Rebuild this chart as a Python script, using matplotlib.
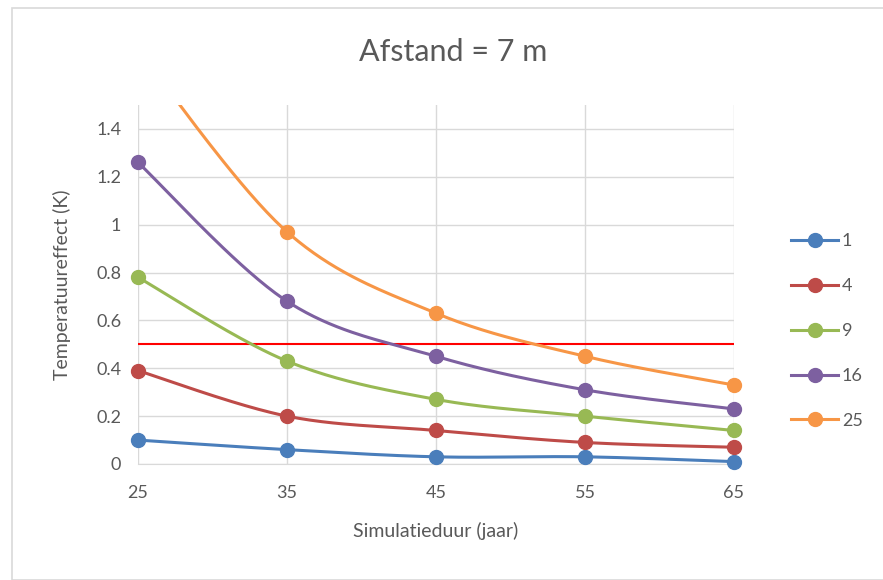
import numpy as np
import matplotlib.pyplot as plt
from matplotlib.lines import Line2D
from matplotlib.patches import Rectangle

plt.rcParams['font.family'] = ['Lato', 'DejaVu Sans']

# data
jaren = [25, 35, 45, 55, 65]
series_names = ["1", "4", "9", "16", "25"]
v1 = [0.10, 0.06, 0.03, 0.03, 0.01]
v4 = [0.39, 0.20, 0.14, 0.09, 0.07]
v9 = [0.78, 0.43, 0.27, 0.20, 0.14]
v16 = [1.26, 0.68, 0.45, 0.31, 0.23]
v25 = [1.73, 0.97, 0.63, 0.45, 0.33]
grens = 0.5

kleuren = ["#4A7EBB", "#BE4B48", "#98B954", "#7D60A0", "#F79646"]
grijs = "#595959"
ytop = 1.5


def smooth(x, y, n=40):
    # Catmull-Rom style smoothing like Excel's "smoothed line"
    x = np.asarray(x, float)
    y = np.asarray(y, float)
    xs, ys = [], []
    for i in range(len(x) - 1):
        p0 = (x[i - 1], y[i - 1]) if i > 0 else (x[i], y[i])
        p1 = (x[i], y[i])
        p2 = (x[i + 1], y[i + 1])
        p3 = (x[i + 2], y[i + 2]) if i + 2 < len(x) else (x[i + 1], y[i + 1])
        c1 = (p1[0] + (p2[0] - p0[0]) / 6, p1[1] + (p2[1] - p0[1]) / 6)
        c2 = (p2[0] - (p3[0] - p1[0]) / 6, p2[1] - (p3[1] - p1[1]) / 6)
        t = np.linspace(0, 1, n)
        bx = (1-t)**3*p1[0] + 3*(1-t)**2*t*c1[0] + 3*(1-t)*t**2*c2[0] + t**3*p2[0]
        by = (1-t)**3*p1[1] + 3*(1-t)**2*t*c1[1] + 3*(1-t)*t**2*c2[1] + t**3*p2[1]
        xs.extend(bx)
        ys.extend(by)
    return np.array(xs), np.array(ys)


fig = plt.figure(figsize=(8.83, 5.8), dpi=100)
fig.patches.append(Rectangle((12/883, 0), 1, 1 - 8/580, transform=fig.transFigure,
                             fill=False, edgecolor="#D9D9D9", linewidth=1.2))
ax = fig.add_axes([138/883, 1 - 464/580, (734-138)/883, (464-105)/580])

for naam, vals, kl in zip(series_names, [v1, v4, v9, v16, v25], kleuren):
    sx, sy = smooth(jaren, vals)
    ax.plot(sx, sy, color=kl, linewidth=2.2, zorder=3)
    # markers outside the visible range stay hidden, the others may overlap the edges
    mv = np.ma.masked_greater(np.array(vals), ytop)
    ax.plot(jaren, mv, "o", color=kl, markersize=10, zorder=4, clip_on=False)

ax.plot([jaren[0], jaren[-1] + 0.15], [grens, grens], color="#FF0000", linewidth=1.5, zorder=2)

ax.set_xlim(25, 65)
ax.set_ylim(0, ytop)
ax.set_xticks(jaren)
ax.set_yticks([0, 0.2, 0.4, 0.6, 0.8, 1, 1.2, 1.4])
ax.set_yticklabels(["0", "0.2", "0.4", "0.6", "0.8", "1", "1.2", "1.4"])
ax.grid(True, color="#D9D9D9", linewidth=1)
ax.set_axisbelow(True)
for s in ["top", "right", "left"]:
    ax.spines[s].set_visible(False)
ax.spines["bottom"].set_color("#D9D9D9")
ax.tick_params(length=0, colors=grijs, labelsize=13)
ax.tick_params(axis="x", pad=15)
ax.tick_params(axis="y", pad=12)

ax.set_xlabel("Simulatieduur (jaar)", fontsize=14, color=grijs, labelpad=15)
ax.set_ylabel("Temperatuureffect (K)", fontsize=14, color=grijs, labelpad=18)
fig.text(453/883, 1 - 52/580, "Afstand = 7 m", ha="center", va="center", fontsize=22, color=grijs)

handles = [Line2D([], [], color=kl, linewidth=2.2, marker="o", markersize=10) for kl in kleuren]
fig.legend(handles, series_names, loc="center left", bbox_to_anchor=(775/883, 1 - 331/580),
           frameon=False, fontsize=13, labelcolor=grijs, handlelength=2.6, handletextpad=0.2,
           labelspacing=1.6)

fig.savefig("out.png", dpi=100)
